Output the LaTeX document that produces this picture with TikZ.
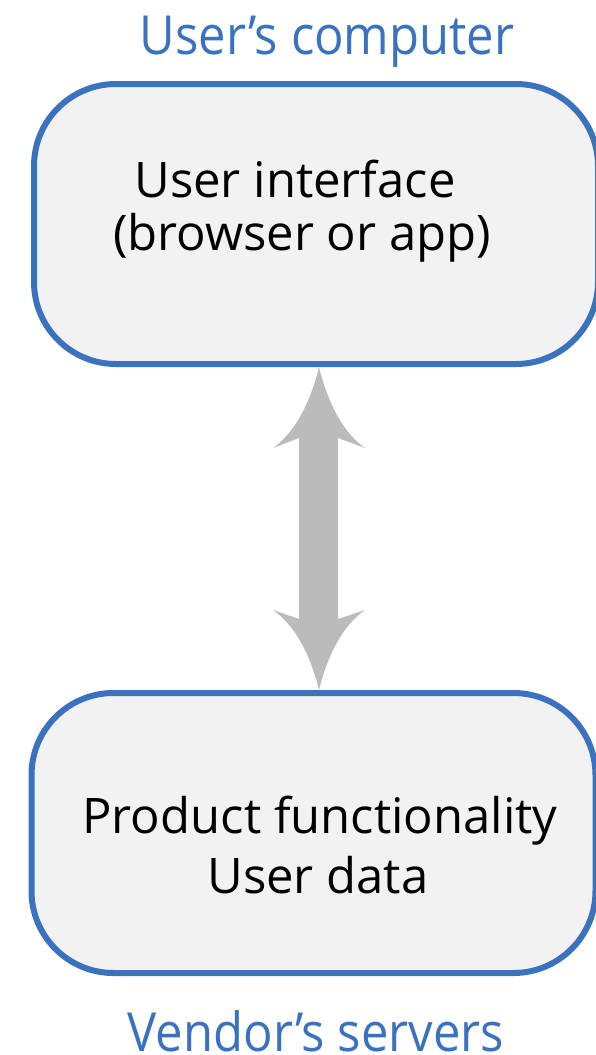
\documentclass[tikz,border=0pt]{standalone}
\usepackage{fontspec}
\setmainfont{Open Sans}
\definecolor{boxblue}{HTML}{3A72C0}
\definecolor{boxfill}{HTML}{F2F2F2}
\definecolor{arrowgray}{HTML}{BBBBBB}
\begin{document}
\begin{tikzpicture}[x=1pt,y=-1pt,
  box/.style={draw=boxblue, fill=boxfill, line width=6pt, rounded corners=82pt,
    minimum width=564pt, minimum height=280pt, inner sep=0pt, outer sep=0pt},
  caption/.style={text=boxblue, font=\fontsize{49}{58}\selectfont, anchor=base, inner sep=0pt, yscale=1.1},
  body/.style={text=black, font=\fontsize{49}{58}\selectfont, anchor=base, inner sep=0pt}]
\useasboundingbox (0,0) rectangle (596,1055);
\node[box] (ui) at (316,224) {};
\node[box] (srv) at (313.5,833) {};
\node[caption] (c1) at (327,54) {User’s computer};
\node[caption] (c2) at (316,1051) {Vendor’s servers};
\node[body] (t1) at (295,197) {User interface};
\node[body] (t2) at (302,250) {(browser or app)};
\node[body] (t3) at (320,833) {Product functionality};
\node[body] (t4) at (318,893) {User data};
\fill[arrowgray] (319,367) .. controls (327,400) and (342,432) .. (365,448)
  -- (338,438) -- (338,619) -- (365,610)
  .. controls (342,626) and (327,657) .. (319,690)
  .. controls (311,657) and (296,626) .. (273,610)
  -- (299,619) -- (299,438) -- (273,448)
  .. controls (296,432) and (311,400) .. cycle;
\end{tikzpicture}
\end{document}
